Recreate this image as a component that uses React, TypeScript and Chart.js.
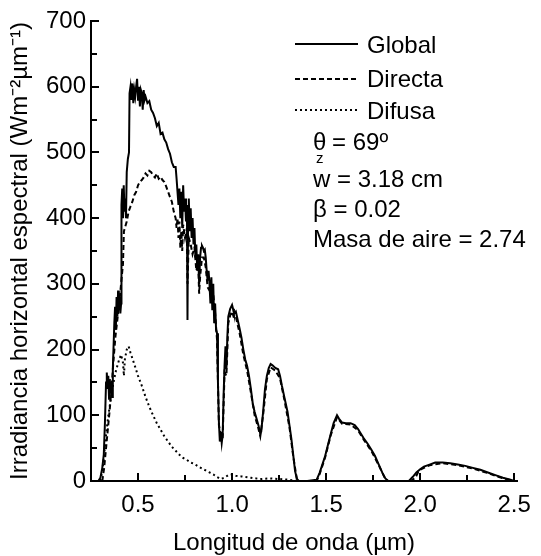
import { useEffect, useRef } from 'react';
import { Chart, registerables } from 'chart.js';

Chart.register(...registerables);

// ---------- data (wavelength in µm, irradiance in W m-2 µm-1) ----------
const globalWavelengths = [
  0.289, 0.3, 0.31, 0.318, 0.324, 0.33, 0.334, 0.338, 0.342, 0.346, 0.35, 0.354, 0.358, 0.362, 0.366,
  0.37, 0.374, 0.378, 0.382, 0.386, 0.39, 0.394, 0.398, 0.402, 0.406, 0.41, 0.412, 0.416, 0.42, 0.424,
  0.428, 0.432, 0.436, 0.44, 0.446, 0.452, 0.455, 0.46, 0.465, 0.47, 0.475, 0.48, 0.485, 0.49, 0.495,
  0.5, 0.505, 0.51, 0.515, 0.52, 0.525, 0.53, 0.535, 0.54, 0.55, 0.56, 0.57, 0.58, 0.59, 0.6,
  0.61, 0.62, 0.63, 0.64, 0.65, 0.66, 0.67, 0.68, 0.69, 0.7, 0.705, 0.71, 0.715, 0.72, 0.725,
  0.73, 0.735, 0.74, 0.745, 0.75, 0.755, 0.76, 0.763, 0.766, 0.77, 0.775, 0.78, 0.785, 0.79, 0.795,
  0.8, 0.805, 0.81, 0.815, 0.82, 0.825, 0.83, 0.835, 0.84, 0.845, 0.85, 0.855, 0.86, 0.865, 0.87,
  0.875, 0.88, 0.885, 0.89, 0.895, 0.9, 0.905, 0.91, 0.915, 0.92, 0.925, 0.93, 0.935, 0.94, 0.945,
  0.95, 0.955, 0.96, 0.965, 0.97, 0.975, 0.98, 0.99, 1.0, 1.005, 1.01, 1.02, 1.03, 1.04, 1.05,
  1.06, 1.07, 1.08, 1.09, 1.1, 1.11, 1.12, 1.13, 1.14, 1.15, 1.155, 1.165, 1.175, 1.185, 1.195,
  1.205, 1.215, 1.23, 1.245, 1.255, 1.265, 1.28, 1.295, 1.305, 1.315, 1.325, 1.335, 1.345, 1.355, 1.4,
  1.45, 1.465, 1.48, 1.495, 1.51, 1.525, 1.54, 1.558, 1.568, 1.585, 1.605, 1.63, 1.652, 1.67, 1.685,
  1.7, 1.72, 1.74, 1.76, 1.78, 1.8, 1.815, 1.83, 1.94, 1.96, 1.98, 2.0, 2.02, 2.05, 2.08,
  2.12, 2.16, 2.2, 2.24, 2.28, 2.32, 2.36, 2.4, 2.44, 2.48, 2.5,
];
const globalValues = [
  0, 5, 20, 40, 88, 150, 165, 140, 160, 125, 155, 135, 150, 128, 170,
  205, 240, 265, 230, 280, 250, 290, 260, 280, 255, 270, 420, 445, 400, 450,
  410, 430, 400, 470, 490, 500, 590, 600, 580, 605, 575, 595, 585, 600, 612,
  580, 600, 570, 595, 590, 565, 595, 580, 585, 575, 578, 565, 560, 552, 540,
  545, 528, 530, 520, 515, 505, 498, 485, 478, 478, 460, 440, 420, 445, 400,
  440, 385, 450, 410, 430, 395, 420, 245, 400, 430, 380, 415, 370, 400, 360,
  385, 340, 360, 320, 345, 300, 340, 355, 358, 355, 350, 352, 340, 320, 305,
  320, 300, 270, 310, 260, 300, 240, 270, 230, 225, 150, 90, 60, 75, 58,
  70, 130, 175, 205, 170, 220, 250, 262, 268, 262, 255, 258, 245, 232, 218,
  200, 185, 175, 160, 140, 118, 105, 95, 85, 72, 75, 105, 140, 160, 172,
  178, 176, 172, 170, 160, 145, 125, 105, 85, 65, 40, 15, 3, 0, 0,
  2, 12, 25, 38, 55, 72, 88, 100, 95, 89, 88, 88, 85, 79, 72,
  65, 57, 48, 38, 25, 12, 4, 0, 0, 6, 13, 18, 22, 25, 28,
  28, 27, 25, 23, 20, 17, 13, 9, 5, 2, 0,
];

const directaWavelengths = [
  0.31, 0.32, 0.33, 0.34, 0.35, 0.36, 0.37, 0.38, 0.39, 0.4, 0.41, 0.42, 0.425, 0.43, 0.44,
  0.45, 0.46, 0.47, 0.48, 0.49, 0.5, 0.51, 0.52, 0.53, 0.54, 0.55, 0.56, 0.57, 0.58, 0.59,
  0.6, 0.61, 0.62, 0.63, 0.64, 0.65, 0.66, 0.67, 0.68, 0.69, 0.7, 0.705, 0.71, 0.715, 0.72,
  0.725, 0.73, 0.735, 0.74, 0.75, 0.76, 0.763, 0.77, 0.78, 0.79, 0.8, 0.81, 0.82, 0.825, 0.83,
  0.84, 0.85, 0.86, 0.87, 0.88, 0.89, 0.9, 0.91, 0.92, 0.93, 0.94, 0.95, 0.96, 0.97, 0.98,
  0.99, 1.0, 1.01, 1.02, 1.04, 1.06, 1.08, 1.1, 1.12, 1.14, 1.15, 1.165, 1.185, 1.205, 1.23,
  1.255, 1.28, 1.305, 1.325, 1.345, 1.355, 1.45, 1.465, 1.495, 1.525, 1.558, 1.585, 1.63, 1.67, 1.7,
  1.74, 1.78, 1.815, 1.83, 1.95, 1.975, 1.99, 2.0, 2.05, 2.12, 2.2, 2.28, 2.36, 2.44, 2.5,
];
const directaValues = [
  0, 20, 50, 80, 110, 145, 185, 220, 245, 270, 300, 330, 380, 385, 395,
  410, 418, 425, 435, 440, 450, 455, 458, 462, 468, 465, 472, 470, 465, 462,
  468, 460, 463, 458, 455, 448, 440, 432, 425, 410, 400, 385, 400, 370, 395,
  355, 380, 350, 390, 370, 385, 300, 370, 360, 345, 355, 320, 330, 285, 310,
  340, 340, 325, 295, 290, 295, 285, 255, 215, 85, 70, 65, 165, 160, 240,
  252, 258, 248, 250, 225, 192, 168, 135, 100, 80, 68, 100, 155, 173, 168,
  156, 121, 82, 38, 2, 0, 0, 10, 36, 70, 97, 87, 86, 77, 63,
  46, 24, 3, 0, 0, 5, 14, 17, 24, 27, 24, 19, 12, 4, 0,
];

const difusaWavelengths = [
  0.3, 0.31, 0.32, 0.33, 0.34, 0.35, 0.36, 0.37, 0.38, 0.39, 0.4, 0.41, 0.42, 0.425, 0.43,
  0.44, 0.45, 0.46, 0.48, 0.5, 0.52, 0.54, 0.56, 0.58, 0.6, 0.62, 0.64, 0.66, 0.68, 0.7,
  0.72, 0.74, 0.76, 0.78, 0.8, 0.82, 0.84, 0.86, 0.88, 0.9, 0.92, 0.94, 0.96, 0.98, 1.0,
  1.02, 1.05, 1.1, 1.15, 1.2, 1.25, 1.3, 1.35, 2.5,
];
const difusaValues = [
  0, 15, 40, 70, 95, 115, 135, 150, 165, 175, 185, 192, 180, 160, 185,
  200, 205, 195, 178, 160, 145, 128, 113, 100, 88, 78, 68, 60, 52, 46,
  40, 35, 32, 28, 26, 22, 19, 16, 13, 10, 6, 3, 5, 9, 10,
  8, 7, 5, 3, 4, 3, 2, 0, 0,
];

const seriesLabels = ['Global', 'Directa', 'Difusa'];
const xMajorTicks = [0.5, 1.0, 1.5, 2.0, 2.5];
const xMinorTicks = [0.75, 1.25, 1.75, 2.25];
const yMajorTicks = [0, 100, 200, 300, 400, 500, 600, 700];
const yMinorTicks = [50, 150, 250, 350, 450, 550, 650];
const xAxisTitle = 'Longitud de onda (µm)';
const yAxisTitle = 'Irradiancia horizontal espectral (Wm⁻²µm⁻¹)';
const thetaText = '= 69º';
const annotationLines = ['w = 3.18 cm', 'β = 0.02', 'Masa de aire = 2.74'];

const FONT = "'Liberation Sans', Arial, sans-serif";

const toPoints = (xs: number[], ys: number[]) => xs.map((x, i) => ({ x, y: ys[i] }));

const overlayPlugin = {
  id: 'overlay',
  afterDraw(chart: any) {
    const { ctx, chartArea, scales } = chart;
    const xs = scales.x;
    const ys = scales.y;
    ctx.save();
    ctx.strokeStyle = '#000';
    ctx.lineWidth = 2;
    ctx.setLineDash([]);
    ctx.beginPath();
    const b = chartArea.bottom;
    const l = chartArea.left;
    xMajorTicks.forEach((v) => {
      const p = Math.round(xs.getPixelForValue(v));
      ctx.moveTo(p, b);
      ctx.lineTo(p, b - 8);
    });
    xMinorTicks.forEach((v) => {
      const p = Math.round(xs.getPixelForValue(v));
      ctx.moveTo(p, b);
      ctx.lineTo(p, b - 6);
    });
    yMajorTicks.forEach((v) => {
      const p = Math.round(ys.getPixelForValue(v));
      ctx.moveTo(l, p);
      ctx.lineTo(l + 8, p);
    });
    yMinorTicks.forEach((v) => {
      const p = Math.round(ys.getPixelForValue(v));
      ctx.moveTo(l, p);
      ctx.lineTo(l + 6, p);
    });
    ctx.stroke();

    // legend
    const rows = [44, 79, 110];
    const baselines = [53, 87, 119];
    chart.data.datasets.forEach((ds: any, i: number) => {
      ctx.beginPath();
      ctx.lineWidth = 2;
      ctx.setLineDash(ds.borderDash || []);
      ctx.moveTo(295, rows[i]);
      ctx.lineTo(358, rows[i]);
      ctx.stroke();
      ctx.setLineDash([]);
      ctx.fillStyle = '#000';
      ctx.font = `24px ${FONT}`;
      ctx.textAlign = 'left';
      ctx.textBaseline = 'alphabetic';
      ctx.fillText(ds.label, 367, baselines[i]);
    });

    // annotation
    ctx.fillStyle = '#000';
    ctx.font = `24px ${FONT}`;
    ctx.textBaseline = 'alphabetic';
    ctx.fillText('θ', 313, 150);
    ctx.font = `15px ${FONT}`;
    ctx.fillText('z', 316, 163);
    ctx.font = `24px ${FONT}`;
    ctx.fillText(thetaText, 332, 150);
    const annBase = [187, 217, 247];
    annotationLines.forEach((t, i) => ctx.fillText(t, 313, annBase[i]));

    // x axis title
    ctx.textAlign = 'center';
    ctx.fillText(xAxisTitle, 294, 550);
    ctx.restore();
  },
};

export default function App() {
  const ref = useRef<HTMLCanvasElement | null>(null);
  useEffect(() => {
    document.body.style.margin = '0';
    const canvas = ref.current;
    if (!canvas) return;
    const chart = new Chart(canvas, {
      type: 'line',
      data: {
        datasets: [
          {
            label: seriesLabels[0],
            data: toPoints(globalWavelengths, globalValues),
            borderColor: '#000',
            borderWidth: 2,
            pointRadius: 0,
            tension: 0,
            fill: false,
          },
          {
            label: seriesLabels[1],
            data: toPoints(directaWavelengths, directaValues),
            borderColor: '#000',
            borderWidth: 2,
            borderDash: [5, 3],
            pointRadius: 0,
            tension: 0,
            fill: false,
          },
          {
            label: seriesLabels[2],
            data: toPoints(difusaWavelengths, difusaValues),
            borderColor: '#000',
            borderWidth: 2,
            borderDash: [2, 3],
            pointRadius: 0,
            tension: 0,
            fill: false,
          },
        ],
      },
      options: {
        animation: false,
        responsive: false,
        devicePixelRatio: 1,
        layout: { padding: { left: 0, top: 21, right: 19, bottom: 0 } },
        plugins: { legend: { display: false }, tooltip: { enabled: false } },
        elements: { line: { borderCapStyle: 'butt' } },
        scales: {
          x: {
            type: 'linear',
            min: 0.25,
            max: 2.515,
            afterBuildTicks: (scale: any) => {
              scale.ticks = xMajorTicks.map((value) => ({ value }));
            },
            afterFit: (scale: any) => {
              scale.height = 75;
            },
            grid: { display: false, drawTicks: false },
            border: { display: true, color: '#000', width: 2 },
            ticks: {
              color: '#000',
              font: { family: FONT, size: 24 },
              padding: 10,
              autoSkip: false,
              maxRotation: 0,
              callback: (v: any) => Number(v).toFixed(1),
            },
            title: { display: false, text: xAxisTitle },
          },
          y: {
            type: 'linear',
            min: 0,
            max: 700,
            afterBuildTicks: (scale: any) => {
              scale.ticks = yMajorTicks.map((value) => ({ value }));
            },
            afterFit: (scale: any) => {
              scale.width = 91;
            },
            grid: { display: false, drawTicks: false },
            border: { display: true, color: '#000', width: 2 },
            ticks: {
              color: '#000',
              font: { family: FONT, size: 24 },
              padding: 5,
              autoSkip: false,
            },
            title: {
              display: true,
              text: yAxisTitle,
              color: '#000',
              font: { family: FONT, size: 24 },
              padding: { top: 6, bottom: 0 },
            },
          },
        },
      },
      plugins: [overlayPlugin],
    });
    return () => chart.destroy();
  }, []);
  return (
    <div style={{ width: 541, height: 556 }}>
      <canvas ref={ref} width={541} height={556} style={{ display: 'block' }} />
    </div>
  );
}
